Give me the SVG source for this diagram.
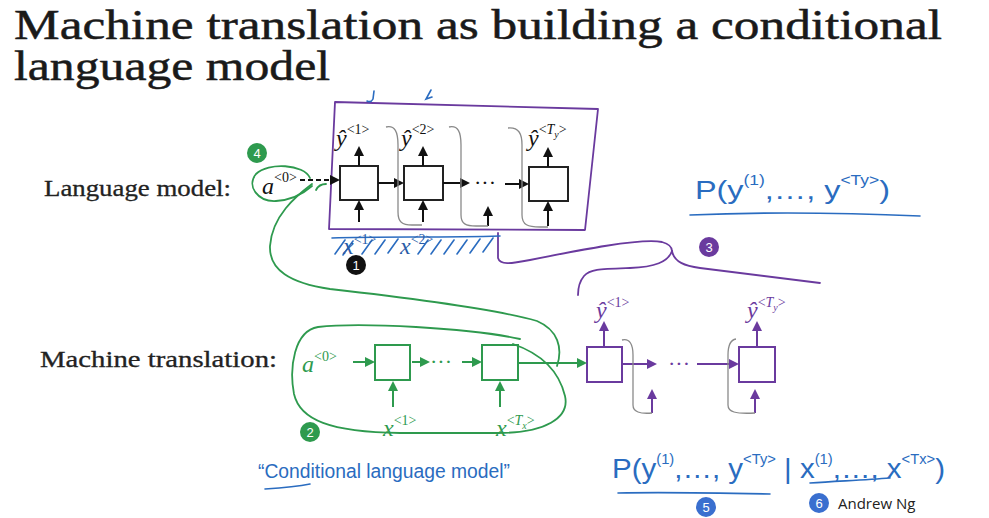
<svg xmlns="http://www.w3.org/2000/svg" width="989" height="518" viewBox="0 0 989 518">
<defs>
<marker id="ak" viewBox="0 0 10 10" refX="8" refY="5" markerWidth="5" markerHeight="5" orient="auto"><path d="M0,0 L10,5 L0,10 z" fill="#111"/></marker>
<marker id="ag" viewBox="0 0 10 10" refX="8" refY="5" markerWidth="5" markerHeight="5" orient="auto"><path d="M0,0 L10,5 L0,10 z" fill="#2e9a4e"/></marker>
<marker id="ap" viewBox="0 0 10 10" refX="8" refY="5" markerWidth="5" markerHeight="5" orient="auto"><path d="M0,0 L10,5 L0,10 z" fill="#6a3a9e"/></marker>
</defs>
<style>
.title{font-family:"Liberation Serif",serif;font-size:43px;fill:#1a1a1a;stroke:#1a1a1a;stroke-width:0.5}
.lbl{font-family:"Liberation Serif",serif;font-size:23px;fill:#222;stroke:#222;stroke-width:0.3}
.m{font-family:"Liberation Serif",serif;font-style:italic;font-size:24px}
.s{font-style:normal;font-size:14px}
.ss{font-style:italic;font-size:10px}
.bk{fill:#111}
.gr{fill:#2e9a4e}
.pu{fill:#6a3a9e}
.boxk{fill:#fff;stroke:#222;stroke-width:2}
.boxg{fill:#fff;stroke:#2e9a4e;stroke-width:2}
.boxp{fill:#fff;stroke:#6a3a9e;stroke-width:2}
.ek{stroke:#111;stroke-width:2;fill:none;marker-end:url(#ak)}
.eg{stroke:#2e9a4e;stroke-width:2;fill:none;marker-end:url(#ag)}
.ep{stroke:#6a3a9e;stroke-width:2;fill:none;marker-end:url(#ap)}
.hook{stroke:#8a8a8a;stroke-width:1.3;fill:none}
.gline{stroke:#2e9a4e;stroke-width:1.8;fill:none;stroke-linecap:round}
.pline{stroke:#6a3a9e;stroke-width:1.8;fill:none;stroke-linecap:round;stroke-linejoin:round}
.bline{stroke:#2a6cc0;stroke-width:1.6;fill:none;stroke-linecap:round}
.hand{font-family:"Liberation Sans",sans-serif;fill:#2a6cc0}
.badge{font-family:"Liberation Sans",sans-serif;font-size:13px;fill:#fff;text-anchor:middle}
.dots{font-family:"Liberation Serif",serif;font-size:22px}
</style>
<rect width="989" height="518" fill="#fff"/>

<g id="title">
<text class="title" x="14" y="39" textLength="928" lengthAdjust="spacingAndGlyphs">Machine translation as building a conditional</text>
<text class="title" x="14" y="80" textLength="316" lengthAdjust="spacingAndGlyphs">language model</text>
</g>

<g id="label-lm"><text class="lbl" x="44" y="196" textLength="187" lengthAdjust="spacingAndGlyphs">Language model:</text></g>
<g id="label-mt"><text class="lbl" x="40" y="367" textLength="237" lengthAdjust="spacingAndGlyphs">Machine translation:</text></g>

<!-- Language model nodes -->
<g id="lm-frame"><path class="pline" d="M335,102 L598,109 L585,230 L329,229 Z"/></g>
<g id="lm-a0"><text class="m bk" x="262" y="194">a<tspan class="s" dy="-12">&lt;0&gt;</tspan></text></g>
<g id="lm-cell1"><rect class="boxk" x="340" y="166" width="38" height="34"/></g>
<g id="lm-cell2"><rect class="boxk" x="404" y="166" width="39" height="34"/></g>
<g id="lm-cell3"><rect class="boxk" x="529" y="167" width="39" height="34"/></g>
<g id="lm-y1"><text class="m bk" x="336" y="146">ŷ<tspan class="s" dy="-12">&lt;1&gt;</tspan></text></g>
<g id="lm-y2"><text class="m bk" x="401" y="146">ŷ<tspan class="s" dy="-12">&lt;2&gt;</tspan></text></g>
<g id="lm-yTy"><text class="m bk" x="528" y="146">ŷ<tspan class="s" dy="-12">&lt;<tspan font-style="italic">T</tspan></tspan><tspan class="ss" dy="4">y</tspan><tspan class="s" dy="-4">&gt;</tspan></text></g>
<g id="lm-dots"><text class="dots bk" x="474" y="190">···</text></g>

<!-- Machine translation encoder -->
<g id="mt-a0"><text class="m gr" x="302" y="372" font-size="22">a<tspan class="s" dy="-11">&lt;0&gt;</tspan></text></g>
<g id="enc-cell1"><rect class="boxg" x="375" y="345" width="35" height="35"/></g>
<g id="enc-cell2"><rect class="boxg" x="482" y="345" width="36" height="35"/></g>
<g id="enc-dots"><text class="dots gr" x="430" y="369">···</text></g>
<g id="enc-x1"><text class="m gr" x="383" y="436" font-size="22">x<tspan class="s" dy="-11">&lt;1&gt;</tspan></text></g>
<g id="enc-xTx"><text class="m gr" x="496" y="436" font-size="22">x<tspan class="s" dy="-11">&lt;<tspan font-style="italic">T</tspan></tspan><tspan class="ss" dy="4">x</tspan><tspan class="s" dy="-4">&gt;</tspan></text></g>

<!-- Machine translation decoder -->
<g id="dec-cell1"><rect class="boxp" x="587" y="347" width="35" height="35"/></g>
<g id="dec-cell2"><rect class="boxp" x="739" y="347" width="36" height="35"/></g>
<g id="dec-y1"><text class="m pu" x="596" y="318" font-size="21">ŷ<tspan class="s" dy="-11">&lt;1&gt;</tspan></text></g>
<g id="dec-yTy"><text class="m pu" x="747" y="318" font-size="21">ŷ<tspan class="s" dy="-11">&lt;<tspan font-style="italic">T</tspan></tspan><tspan class="ss" dy="4">y</tspan><tspan class="s" dy="-4">&gt;</tspan></text></g>
<g id="dec-dots"><text class="dots pu" x="668" y="371">···</text></g>

<g id="connectors">
<!-- LM arrows -->
<path class="ek" d="M300,180 L338,180" stroke-dasharray="5,3"/>
<path class="ek" d="M378,183 L402,183"/>
<path class="ek" d="M443,183 L468,183"/>
<path class="ek" d="M505,184 L527,184"/>
<path class="ek" d="M359,166 L359,148"/>
<path class="ek" d="M423,166 L423,148"/>
<path class="ek" d="M548,167 L548,149"/>
<path class="ek" d="M359,222 L359,202"/>
<path class="ek" d="M423,222 L423,202"/>
<path class="ek" d="M488,226 L488,208"/>
<path class="ek" d="M548,226 L548,203"/>
<path class="hook" d="M386,127 C395,125 398,132 398,145 L398,212 C398,222 402,225 412,225 L422,225"/>
<path class="hook" d="M449,127 C458,125 461,132 461,145 L461,215 C461,224 466,226 476,226 L488,226"/>
<path class="hook" d="M508,128 C519,127 522,134 522,145 L522,215 C522,225 528,227 540,227 L548,227"/>
<!-- encoder arrows -->
<path class="eg" d="M353,362 L373,362"/>
<path class="eg" d="M412,362 L428,362"/>
<path class="eg" d="M462,362 L480,362"/>
<path class="eg" d="M393,407 L393,383"/>
<path class="eg" d="M500,407 L500,383"/>
<path class="eg" d="M518,363 L585,363"/>
<!-- decoder arrows -->
<path class="ep" d="M604,347 L604,323"/>
<path class="ep" d="M757,347 L757,323"/>
<path class="ep" d="M622,364 L655,364"/>
<path class="ep" d="M697,364 L737,364"/>
<path class="ep" d="M652,413 L652,391"/>
<path class="ep" d="M755,413 L755,391"/>
<path class="hook" d="M622,340 C630,338 633,345 633,355 L633,405 C633,412 640,414 652,413"/>
<path class="hook" d="M736,339 C730,340 728,347 728,355 L728,405 C728,412 735,414 755,413"/>
</g>

<!-- green annotations -->
<g id="green-annotations">
<path class="gline" d="M310,178 C304,164 268,162 256,174 C246,186 258,202 276,201 C292,200 304,193 312,186"/>
<path class="gline" d="M312,184 C296,196 272,216 270,246 C269,270 290,283 330,289 C410,298 495,309 537,321 C558,330 563,348 557,366"/>
<path class="gline" d="M316,190 C318,186 322,184 326,184"/>
<path class="gline" d="M520,339 C470,328 360,322 318,327 C294,331 289,368 294,394 C300,420 330,432 400,433 L498,433 C545,433 570,418 565,396 C560,375 545,355 513,344"/>
<circle cx="257" cy="153" r="10" fill="#2e9a4e"/><text class="badge" x="257" y="158">4</text>
<circle cx="310" cy="432" r="10" fill="#2e9a4e"/><text class="badge" x="310" y="437">2</text>
</g>

<!-- purple brace -->
<g id="purple-brace">
<path class="pline" d="M498,233 L498,258 C500,265 510,264 530,260 C580,250 640,238 662,242 C669,244 672,247 672,251"/>
<path class="pline" d="M672,251 C674,262 685,266 700,268 L820,283"/>
<path class="pline" d="M672,251 C668,262 655,267 630,268 C600,269 590,269 584,276 C579,282 578,288 578,295"/>
<circle cx="709" cy="247" r="10" fill="#6a3a9e"/><text class="badge" x="709" y="252">3</text>
</g>

<!-- blue handwriting -->
<g id="blue-annotations">
<path class="bline" d="M374,91 L373,99 Q371,103 367,101"/>
<path class="bline" d="M431,90 L426,99 L432,97"/>
<path class="bline" stroke-width="1.2" d="M335,254 l10,-14 M343,255 l10,-14 M362,254 l10,-14 M375,254 l10,-14 M388,253 l10,-14 M418,254 l10,-14 M431,254 l10,-14 M444,254 l10,-14 M457,254 l10,-14 M470,253 l10,-14 M483,252 l10,-14 M332,238 C380,236 440,238 500,236"/>
<text class="m" fill="#2a5ca8" x="343" y="254" font-size="20">x<tspan class="s" dy="-10">&lt;1&gt;</tspan></text>
<text class="m" fill="#2a5ca8" x="400" y="254" font-size="20">x<tspan class="s" dy="-10">&lt;2&gt;</tspan></text>
<text class="hand" x="695" y="199" font-size="26" textLength="195" lengthAdjust="spacingAndGlyphs">P(y<tspan font-size="14" dy="-14">(1)</tspan><tspan dy="14">,…, y</tspan><tspan font-size="14" dy="-14">&lt;Ty&gt;</tspan><tspan dy="14">)</tspan></text>
<path class="bline" d="M690,215 C760,212 850,213 920,216"/>
<text class="hand" x="258" y="478" font-size="20" textLength="252" lengthAdjust="spacingAndGlyphs">“Conditional  language  model”</text>
<path class="bline" d="M265,489 C280,488 295,487 310,484"/>
<text class="hand" x="612" y="478" font-size="28" textLength="333" lengthAdjust="spacingAndGlyphs">P(y<tspan font-size="14" dy="-14">(1)</tspan><tspan dy="14">,…, y</tspan><tspan font-size="14" dy="-14">&lt;Ty&gt;</tspan><tspan dy="14"> | x</tspan><tspan font-size="14" dy="-14">(1)</tspan><tspan dy="14">,…, x</tspan><tspan font-size="14" dy="-14">&lt;Tx&gt;</tspan><tspan dy="14">)</tspan></text>
<path class="bline" d="M618,493 C670,492 720,493 770,494"/>
<path class="bline" d="M810,483 C840,481 865,480 890,478"/>
</g>

<g id="badges">
<circle cx="356" cy="265" r="10" fill="#111"/><text class="badge" x="356" y="270">1</text>
<circle cx="706" cy="507" r="10" fill="#3a6fcf"/><text class="badge" x="706" y="512">5</text>
<circle cx="819" cy="503" r="10" fill="#3a6fcf"/><text class="badge" x="819" y="508">6</text>
<text x="838" y="509" font-family="'Open Sans','Liberation Sans',sans-serif" font-size="15" fill="#222">Andrew Ng</text>
</g>
</svg>
